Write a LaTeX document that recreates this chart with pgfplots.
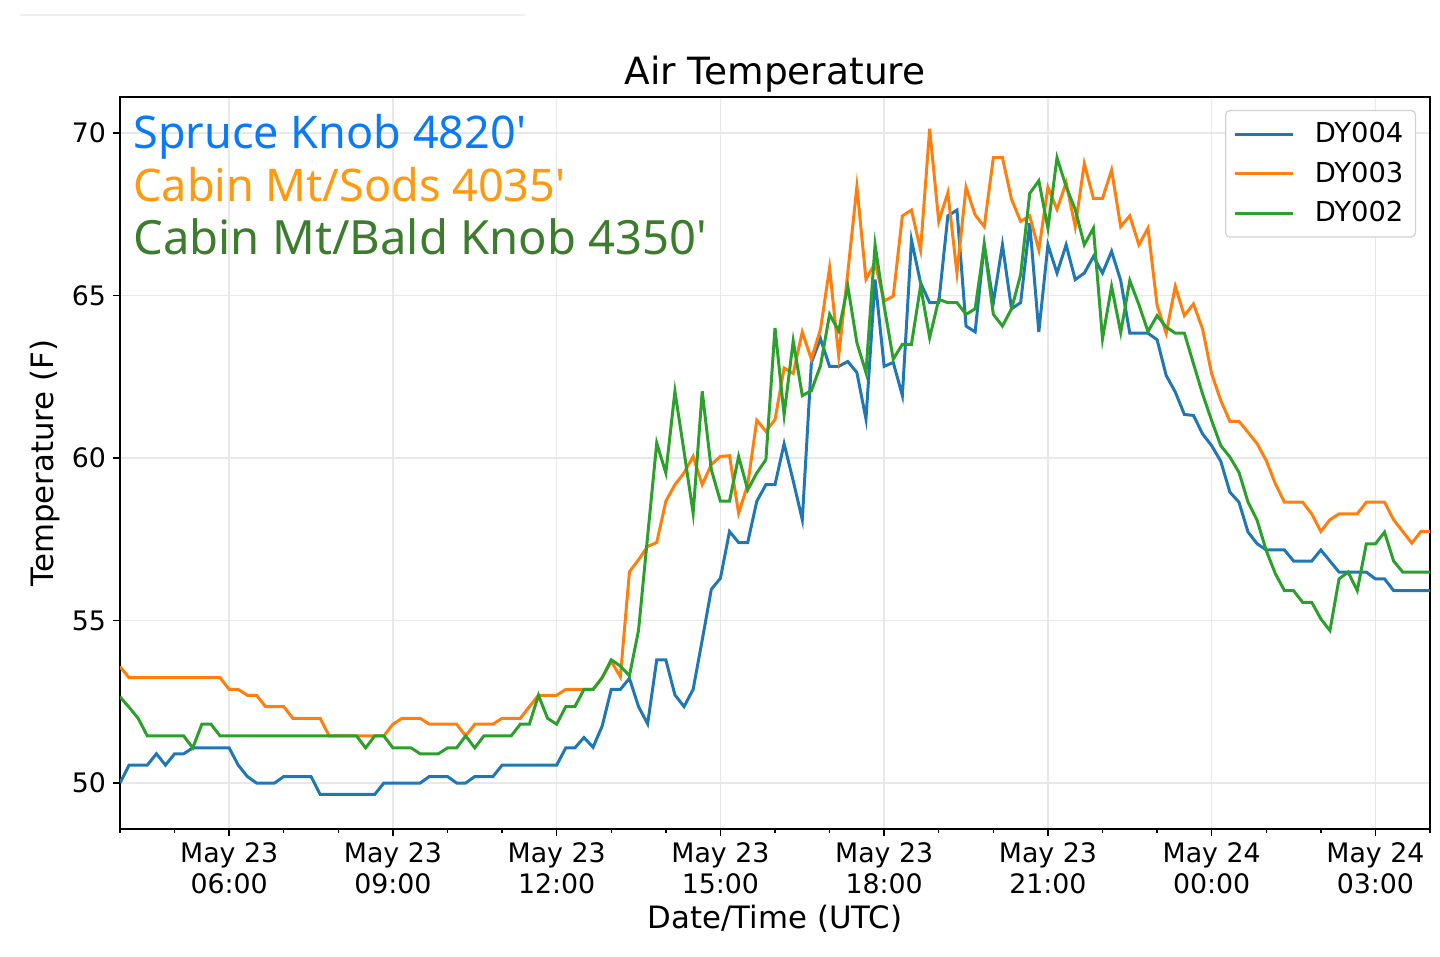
\documentclass[border=0pt]{standalone}
\usepackage{fontspec}
\setmainfont{DejaVu Sans}
\newfontfamily\annofont{Noto Sans}
\usepackage{pgfplots}
\pgfplotsset{compat=1.18}
\usepackage{pgfplotstable}
\definecolor{cb}{HTML}{1F77B4}
\definecolor{co}{HTML}{FF7F0E}
\definecolor{cg}{HTML}{2CA02C}
\definecolor{tb}{HTML}{0A7AF5}
\definecolor{to}{HTML}{FF9A0F}
\definecolor{tg}{HTML}{3C7D2D}
\pgfplotstableread{
i b o g
0 50.00 53.58 52.65
1 50.55 53.24 52.33
2 50.55 53.24 51.99
3 50.55 53.24 51.45
4 50.90 53.24 51.45
5 50.55 53.24 51.45
6 50.90 53.24 51.45
7 50.90 53.24 51.45
8 51.08 53.24 51.08
9 51.08 53.24 51.81
10 51.08 53.24 51.81
11 51.08 53.24 51.45
12 51.08 52.88 51.45
13 50.55 52.88 51.45
14 50.20 52.70 51.45
15 50.00 52.70 51.45
16 50.00 52.35 51.45
17 50.00 52.35 51.45
18 50.20 52.35 51.45
19 50.20 51.99 51.45
20 50.20 51.99 51.45
21 50.20 51.99 51.45
22 49.65 51.99 51.45
23 49.65 51.45 51.45
24 49.65 51.45 51.45
25 49.65 51.45 51.45
26 49.65 51.45 51.45
27 49.65 51.45 51.08
28 49.65 51.45 51.45
29 50.00 51.45 51.45
30 50.00 51.81 51.08
31 50.00 51.99 51.08
32 50.00 51.99 51.08
33 50.00 51.99 50.90
34 50.20 51.81 50.90
35 50.20 51.81 50.90
36 50.20 51.81 51.08
37 50.00 51.81 51.08
38 50.00 51.45 51.45
39 50.20 51.81 51.08
40 50.20 51.81 51.45
41 50.20 51.81 51.45
42 50.55 51.99 51.45
43 50.55 51.99 51.45
44 50.55 51.99 51.81
45 50.55 52.35 51.81
46 50.55 52.70 52.70
47 50.55 52.70 51.99
48 50.55 52.70 51.81
49 51.08 52.88 52.35
50 51.08 52.88 52.35
51 51.40 52.88 52.88
52 51.10 52.88 52.88
53 51.75 53.24 53.24
54 52.88 53.74 53.79
55 52.88 53.27 53.60
56 53.22 56.50 53.30
57 52.35 56.87 54.70
58 51.82 57.28 57.60
59 53.79 57.40 60.46
60 53.79 58.67 59.54
61 52.71 59.18 62.05
62 52.35 59.54 60.20
63 52.88 60.05 58.30
64 54.40 59.18 62.05
65 55.96 59.80 59.64
66 56.30 60.05 58.67
67 57.74 60.07 58.67
68 57.40 58.30 60.05
69 57.40 59.18 59.02
70 58.67 61.16 59.54
71 59.18 60.82 59.95
72 59.18 61.18 64.00
73 60.44 62.77 61.33
74 59.30 62.60 63.60
75 58.10 63.88 61.92
76 62.94 63.04 62.07
77 63.67 63.96 62.84
78 62.82 65.85 64.42
79 62.82 63.14 63.91
80 62.97 65.70 65.29
81 62.63 68.35 63.55
82 61.20 65.50 62.63
83 65.49 66.00 66.56
84 62.82 64.83 64.67
85 62.94 64.98 63.04
86 61.92 67.45 63.50
87 66.71 67.63 63.50
88 65.39 66.40 65.29
89 64.78 70.13 63.70
90 64.78 67.28 64.88
91 67.45 68.16 64.78
92 67.63 65.70 64.78
93 64.06 68.33 64.42
94 63.88 67.48 64.59
95 66.56 67.12 66.56
96 64.78 69.24 64.42
97 66.56 69.24 64.06
98 64.59 67.96 64.59
99 64.78 67.28 65.64
100 67.22 67.45 68.14
101 63.88 66.40 68.53
102 66.56 68.33 67.07
103 65.69 67.65 69.24
104 66.56 68.47 68.35
105 65.49 67.12 67.65
106 65.69 69.06 66.56
107 66.20 67.99 67.07
108 65.69 67.99 63.67
109 66.36 68.86 65.28
110 65.46 67.12 63.86
111 63.84 67.45 65.46
112 63.84 66.56 64.72
113 63.84 67.07 63.89
114 63.64 64.70 64.38
115 62.54 63.84 64.03
116 62.03 65.28 63.84
117 61.34 64.38 63.84
118 61.31 64.74 62.90
119 60.74 63.97 61.97
120 60.38 62.59 61.15
121 59.90 61.77 60.38
122 58.95 61.13 60.03
123 58.64 61.13 59.56
124 57.72 60.79 58.64
125 57.36 60.44 58.08
126 57.17 59.92 57.15
127 57.17 59.21 56.44
128 57.17 58.64 55.92
129 56.83 58.64 55.92
130 56.83 58.64 55.56
131 56.83 58.28 55.56
132 57.17 57.74 55.05
133 56.83 58.10 54.69
134 56.49 58.28 56.28
135 56.49 58.28 56.49
136 56.49 58.28 55.92
137 56.49 58.64 57.36
138 56.28 58.64 57.36
139 56.28 58.64 57.72
140 55.92 58.10 56.83
141 55.92 57.74 56.49
142 55.92 57.38 56.49
143 55.92 57.74 56.49
144 55.92 57.74 56.49
}\temps

\begin{document}
\begin{tikzpicture}
\begin{axis}[
  at={(0,0)}, anchor=south west,
  scale only axis, width=655pt, height=366pt,
  xmin=0, xmax=144, ymin=48.585, ymax=71.108,
  xtick={12,30,48,66,84,102,120,138},
  xticklabels={{May 23\\06:00},{May 23\\09:00},{May 23\\12:00},{May 23\\15:00},{May 23\\18:00},{May 23\\21:00},{May 24\\00:00},{May 24\\03:00}},
  minor xtick={0,6,18,24,36,42,54,60,72,78,90,96,108,114,126,132,144},
  ytick={50,55,60,65,70},
  tick align=outside, xtick pos=bottom, ytick pos=left,
  major tick length=3.5pt, minor tick length=2pt,
  every tick/.style={black, line width=0.7pt},
  axis line style={line width=0.9pt},
  xmajorgrids, ymajorgrids,
  major grid style={color=black!9, line width=0.8pt},
  /pgf/number format/assume math mode=true,
  x tick label style={align=center, font=\fontsize{13.4pt}{15.5pt}\selectfont},
  y tick label style={font=\fontsize{13.4pt}{15.5pt}\selectfont},
  xlabel={Date/Time (UTC)},
  ylabel={Temperature (F)},
  xlabel style={at={(axis description cs:0.5,0)}, anchor=base, yshift=-50pt, font=\fontsize{15.4pt}{18pt}\selectfont},
  ylabel style={at={(axis description cs:0,0.5)}, anchor=center, yshift=37.5pt, font=\fontsize{15.4pt}{18pt}\selectfont},
  title={Air Temperature},
  title style={at={(axis description cs:0.5,1)}, anchor=base, yshift=0pt, font=\fontsize{18.75pt}{22pt}\selectfont},
  legend cell align=left,
  legend style={at={(1,1)}, anchor=north east, xshift=-7pt, yshift=-6.5pt,
    draw=black!18, rounded corners=2pt, line width=0.6pt,
    font=\fontsize{13.7pt}{15pt}\selectfont,
    inner xsep=4pt, inner ysep=4pt, row sep=4.1pt,
    nodes={inner sep=2pt},
    /tikz/every odd column/.append style={column sep=8pt}},
  legend image code/.code={\draw[#1] (0pt,0pt) -- (29pt,0pt);},
]
\addplot[cb, line width=1.5pt] table[x=i, y=b] {\temps};
\addlegendentry{DY004}
\addplot[co, line width=1.5pt] table[x=i, y=o] {\temps};
\addlegendentry{DY003}
\addplot[cg, line width=1.5pt] table[x=i, y=g] {\temps};
\addlegendentry{DY002}
\end{axis}
\node[anchor=base west, inner sep=0pt, text=tb, font=\annofont\fontsize{22.5pt}{26pt}\selectfont] at (6.5pt,340pt) {Spruce Knob 4820'};
\node[anchor=base west, inner sep=0pt, text=to, font=\annofont\fontsize{22.5pt}{26pt}\selectfont] at (6.5pt,313.5pt) {Cabin Mt/Sods 4035'};
\node[anchor=base west, inner sep=0pt, text=tg, font=\annofont\fontsize{23.6pt}{27pt}\selectfont] at (6.5pt,287pt) {Cabin Mt/Bald Knob 4350'};
\draw[black!6, line width=0.6pt] (-50pt,407pt) -- (202.5pt,407pt);
\pgfresetboundingbox
\path (-60pt,-64pt) rectangle (660pt,414.5pt);
\end{tikzpicture}
\end{document}
